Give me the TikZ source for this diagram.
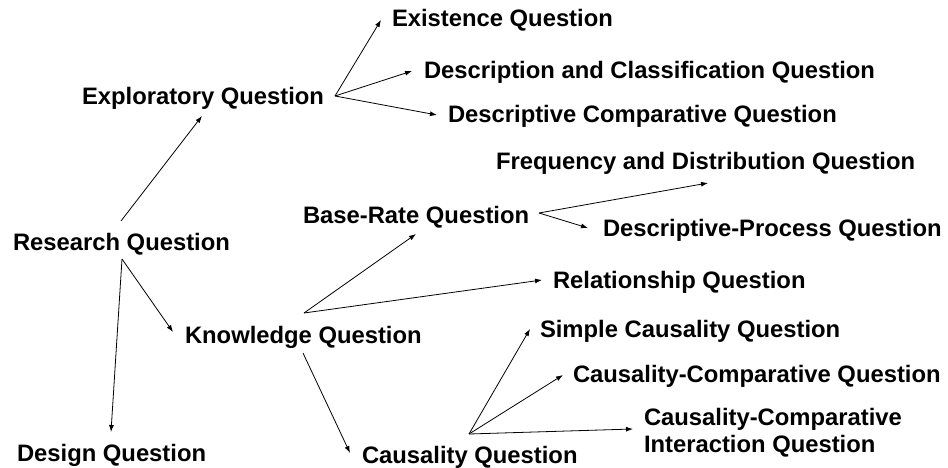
\documentclass[tikz,border=0pt]{standalone}
\usepackage{fontspec}
\setmainfont{Liberation Sans}
\usetikzlibrary{arrows.meta}
\begin{document}
\begin{tikzpicture}[x=1pt,y=-1pt,
  lbl/.style={inner sep=0pt, outer sep=0pt, anchor=base west, align=left,
    font=\fontsize{23.8}{27}\selectfont\bfseries},
  arr/.style={line width=0.8pt, -{Latex[length=7pt,width=5pt]}}]
\useasboundingbox (0,0) rectangle (948,468);
% nodes
\node[lbl] (research) at (13,250) {Research Question};
\node[lbl] (expl) at (82,105) {Exploratory Question};
\node[lbl] (exist) at (392,27) {Existence Question};
\node[lbl] (descl) at (424,79) {Description and Classification Question};
\node[lbl] (dcomp) at (448,123) {Descriptive Comparative Question};
\node[lbl] (know) at (185,343) {Knowledge Question};
\node[lbl] (base) at (303,223) {Base-Rate Question};
\node[lbl] (freq) at (496,170) {Frequency and Distribution Question};
\node[lbl] (dproc) at (603,236) {Descriptive-Process Question};
\node[lbl] (rel) at (553,288) {Relationship Question};
\node[lbl] (design) at (17,461) {Design Question};
\node[lbl] (caus) at (362,463) {Causality Question};
\node[lbl] (simple) at (540,337) {Simple Causality Question};
\node[lbl] (ccomp) at (573,382) {Causality-Comparative Question};
\node[lbl] (cci) at (644,452) {Causality-Comparative\\Interaction Question};
% connectors
\draw[arr] ([shift={(108,-29)}]research.base west) -- ([shift={(120,11)}]expl.base west);
\draw[arr] ([shift={(109,9)}]research.base west) -- ([shift={(-12,-11)}]know.base west);
\draw[arr] ([shift={(109,9)}]research.base west) -- ([shift={(94,-29)}]design.base west);
\draw[arr] ([shift={(253,-9)}]expl.base west) -- ([shift={(-11,-7)}]exist.base west);
\draw[arr] ([shift={(253,-9)}]expl.base west) -- ([shift={(-12,-8)}]descl.base west);
\draw[arr] ([shift={(253,-9)}]expl.base west) -- ([shift={(-11,-8)}]dcomp.base west);
\draw[arr] ([shift={(119,-30)}]know.base west) -- ([shift={(113,11)}]base.base west);
\draw[arr] ([shift={(119,-30)}]know.base west) -- ([shift={(-11,-8)}]rel.base west);
\draw[arr] ([shift={(118,10)}]know.base west) -- ([shift={(-12,-10)}]caus.base west);
\draw[arr] ([shift={(236,-10)}]base.base west) -- ([shift={(212,13)}]freq.base west);
\draw[arr] ([shift={(236,-10)}]base.base west) -- ([shift={(-15,-8)}]dproc.base west);
\draw[arr] ([shift={(107,-29)}]caus.base west) -- ([shift={(-10,-8)}]simple.base west);
\draw[arr] ([shift={(107,-29)}]caus.base west) -- ([shift={(-10,-7)}]ccomp.base west);
\draw[arr] ([shift={(107,-29)}]caus.base west) -- ([shift={(-11,-23)}]cci.base west);
\end{tikzpicture}
\end{document}
